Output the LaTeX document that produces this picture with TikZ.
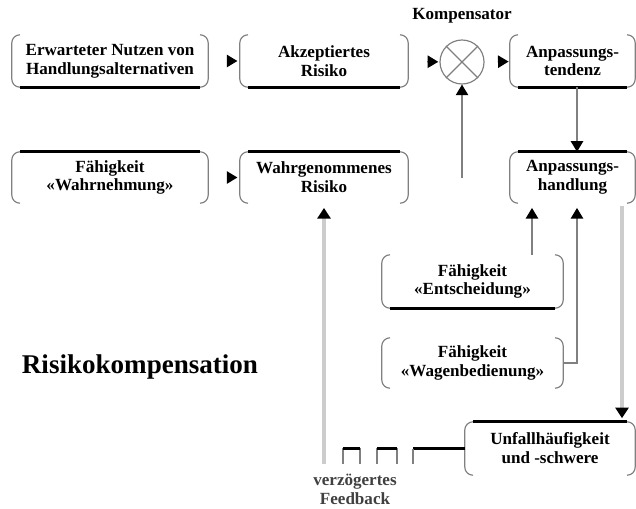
\documentclass[tikz,border=0pt]{standalone}
\usepackage{fontspec}
\setmainfont{Liberation Serif}
\usepackage{tikz}
\usetikzlibrary{arrows.meta}

\newcommand\diagfont{\bfseries\fontsize{14.5}{16}\selectfont}

\begin{document}
\begin{tikzpicture}[
        x=0.85pt, y=-0.85pt,
        box/.style = {
                inner sep=0pt,
                align=center,
                font=\diagfont,
            },
        side/.style = {draw=gray, line width=1pt},
        rim/.style = {draw=black, line width=2.5pt},
        link/.style = {
                draw=gray,
                line width=1.2pt,
                -{Triangle[length=9pt,width=10.5pt,color=black]},
            },
        feed/.style = {
                draw=gray!40,
                line width=4pt,
                -{Triangle[length=9pt,width=11pt,color=black]},
            },
        leg/.style = {draw=gray, line width=1.2pt},
    ]
    \useasboundingbox (0,0) rectangle (636,508);

    % first row
    \node[box, minimum width=166.6pt, minimum height=44.2pt] (nutzen) at (110,61)
        {Erwarteter Nutzen von\\Handlungsalternativen};
    \node[box, minimum width=142.8pt, minimum height=44.2pt] (akzept) at (324,61)
        {Akzeptiertes\\Risiko};
    \node[circle, draw=gray, line width=1pt, minimum size=37.4pt, inner sep=0pt] (komp) at (462,62) {};
    \node[box, minimum width=106.25pt, minimum height=44.2pt] (tendenz) at (572.5,61)
        {Anpassungs-\\tendenz};
    \node[box] (komplabel) at (462,16) {Kompensator};

    % second row
    \node[box, minimum width=166.6pt, minimum height=43.35pt] (wahrn) at (110,177.5)
        {Fähigkeit\\«Wahrnehmung»};
    \node[box, minimum width=142.8pt, minimum height=43.35pt] (wahrg) at (324,177.5)
        {Wahrgenommenes\\Risiko};
    \node[box, minimum width=106.25pt, minimum height=43.35pt] (handlung) at (572.5,177.5)
        {Anpassungs-\\handlung};

    % abilities and outcome
    \node[box, minimum width=153.85pt, minimum height=45.05pt] (entsch) at (472.5,281.5)
        {Fähigkeit\\«Entscheidung»};
    \node[box, minimum width=153.85pt, minimum height=42.5pt] (wagen) at (472.5,363)
        {Fähigkeit\\«Wagenbedienung»};
    \node[box, minimum width=144.5pt, minimum height=45.05pt] (unfall) at (550,448.5)
        {Unfallhäufigkeit\\und -schwere};

    \node[font=\bfseries\fontsize{23}{27}\selectfont] (title) at (140,367) {Risikokompensation};
    \node[box, text=black!75] (fblabel) at (355,489) {verzögertes\\Feedback};

    % box outlines
    \foreach \n in {nutzen,akzept,tendenz,wahrn,wahrg,handlung,entsch,wagen,unfall} {
        \draw[side] ([xshift=7pt]\n.north west) arc[start angle=90,end angle=180,radius=7pt]
            -- ([yshift=7pt]\n.south west) arc[start angle=180,end angle=270,radius=7pt];
        \draw[side] ([xshift=-7pt]\n.north east) arc[start angle=90,end angle=0,radius=7pt]
            -- ([yshift=7pt]\n.south east) arc[start angle=0,end angle=-90,radius=7pt];
    }
    \foreach \n in {nutzen,akzept,tendenz,entsch}
    \draw[rim] ([xshift=7pt]\n.south west) -- ([xshift=-7pt]\n.south east);
    \foreach \n in {wahrn,wahrg,handlung,unfall}
    \draw[rim] ([xshift=7pt]\n.north west) -- ([xshift=-7pt]\n.north east);

    % Kompensator cross
    \draw[side] (komp.north east) -- (komp.south west) (komp.north west) -- (komp.south east);

    % connectors
    \coordinate (r) at (577,0);
    \coordinate (e) at (532,0);
    \coordinate (f) at (622,0);
    \coordinate (src) at (462,178);
    \coordinate (fb) at (324,464);

    \draw[link, shorten <=16pt, shorten >=2pt] (nutzen) -- (akzept);
    \draw[link, shorten <=16pt, shorten >=2pt] (wahrn) -- (wahrg);
    \draw[link, shorten <=16pt, shorten >=1pt] (akzept) -- (komp);
    \draw[link, shorten <=11pt, shorten >=1pt] (komp) -- (tendenz);
    \draw[link] (src) -- (komp);
    \draw[link] (tendenz.south -| r) -- (handlung.north -| r);
    \draw[link, shorten >=4pt] (entsch.north -| e) -- (handlung.south -| e);
    \draw[link, shorten >=4pt] (wagen.east) -| (handlung.south -| r);
    \draw[feed, shorten <=2pt, shorten >=3pt] (handlung.south -| f) -- (unfall.north -| f);

    % delayed feedback
    \draw[rim] (unfall.west) -- ++(-52,0);
    \draw[leg] (413,448.5) -- ++(0,15);
    \foreach \a/\b in {343/360, 377/397} {
        \draw[leg] (\a,463.5) -- (\a,448.5) -- (\b,448.5) -- (\b,463.5);
        \draw[rim] (\a,448.5) -- (\b,448.5);
    }
    \draw[feed, shorten >=4pt] (fb) -- (wahrg);
\end{tikzpicture}
\end{document}
